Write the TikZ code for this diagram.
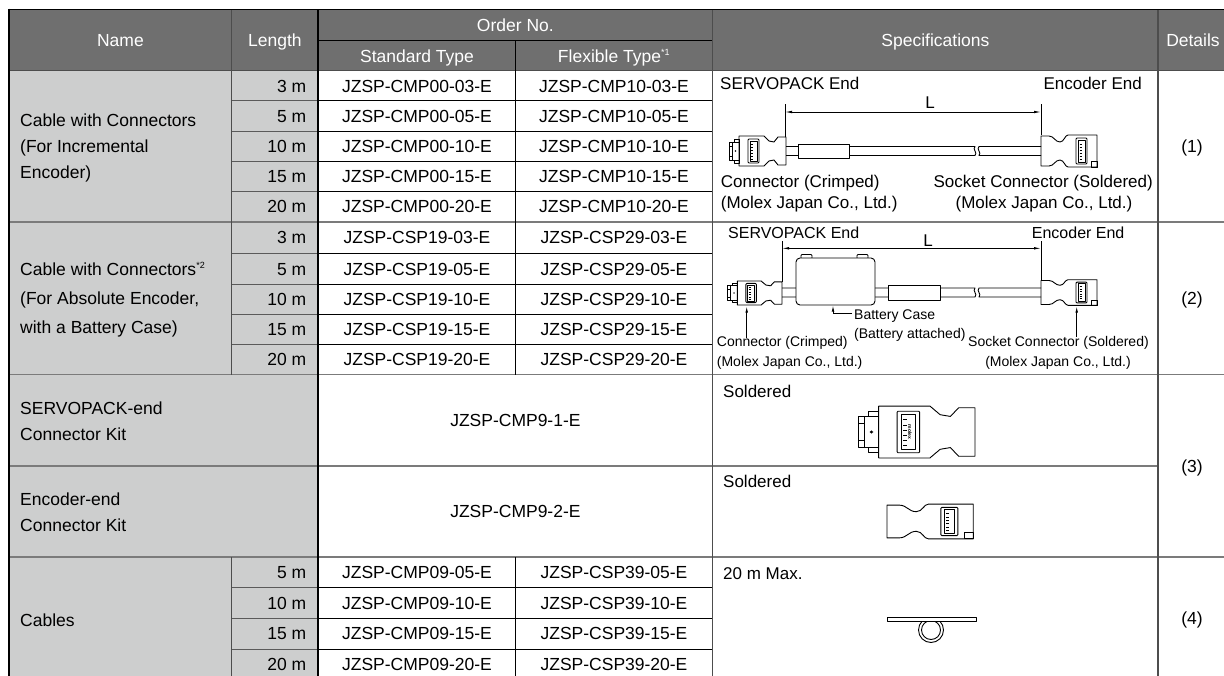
\documentclass[tikz,border=0pt]{standalone}
\usepackage{fontspec}
\setmainfont{Liberation Sans}
\usetikzlibrary{arrows.meta}
\definecolor{hdr}{HTML}{6F6F6F}
\definecolor{cellgray}{HTML}{CDCECE}
\definecolor{sepgray}{HTML}{7B7B7B}
\definecolor{linedark}{HTML}{4D4D4D}
\definecolor{rowgray}{HTML}{5A5A5A}
\newcommand\drawplug{%
  \draw (-57,-9) rectangle (-47,9);
  \draw (-54,-9) -- (-54,9);
  \draw (-57,-5) -- (-54,-5) (-57,5) -- (-54,5);
  \fill (-50.5,0) circle (0.9);
  \draw (-52,-12) rectangle (-47,-9);
  \draw (-52,9) rectangle (-47,12);
  \draw (-47,-15) -- (-22,-15) -- (-17,-10) -- (-12,-9) -- (-8,-14) -- (0,-14) -- (0,14) -- (-8,14) -- (-12,9) -- (-17,10) -- (-22,15) -- (-47,15) -- cycle;
  \draw[rounded corners=1] (-38,-12) rectangle (-27,12);
  \draw (-36,-10) rectangle (-29,10);
  \foreach \t in {-7,-4,...,8} \draw (-35,\t) -- (-33,\t);
}
\newcommand\drawsocket{%
  \draw (0,-15) -- (8,-15) .. controls (13,-15) and (14,-9) .. (19,-9) .. controls (23,-9) and (24,-16) .. (27,-16) -- (56,-16) -- (56,16) -- (27,16) .. controls (24,16) and (23,9) .. (19,9) .. controls (14,9) and (13,15) .. (8,15) -- (0,15) -- cycle;
  \draw[rounded corners=1] (35,-13) rectangle (46,13);
  \draw (37,-11) rectangle (44,11);
  \foreach \t in {-7,-4,...,8} \draw (38.5,\t) -- (40.5,\t);
  \draw (50,10) rectangle (56,16);
}
\begin{document}
\begin{tikzpicture}[x=1pt,y=-1pt,
  txt/.style={inner sep=0pt, font=\fontsize{17.5}{21}\selectfont},
  hd/.style={txt, text=white},
  sp/.style={inner sep=0pt, font=\fontsize{17}{20}\selectfont},
  sm/.style={inner sep=0pt, font=\fontsize{14}{16}\selectfont},
  dw/.style={line width=0.9pt, line join=round},
  dim/.style={line width=0.8pt, {Latex[length=7pt,width=2.6pt]}-{Latex[length=7pt,width=2.6pt]}},
  lead/.style={line width=0.8pt, -{Latex[length=6pt,width=2.6pt]}},
  rowg/.style={line width=0.9pt, rowgray},
  rowk/.style={line width=0.9pt, black},
  sep/.style={line width=1.8pt, sepgray},
  hline/.style={line width=1.5pt, linedark},
  vd/.style={line width=1.3pt, linedark},
  thickk/.style={line width=1.8pt, black},
]
\useasboundingbox (0,0) rectangle (1224,675);
\clip (0,0) rectangle (1224,675);
\fill[white] (0,0) rectangle (1224,675);
% fills
\fill[hdr] (9,9.5) rectangle (1230,70.7);
\fill[cellgray] (9,70.7) rectangle (318,680);
% row lines
\foreach \y in {100.9,131.1,161.3,191.5,253.7,284.3,314.3,344.3,587.3,618.3,649} {
  \draw[rowg] (231.7,\y) -- (318,\y);
  \draw[rowk] (318,\y) -- (712.7,\y);
}
\foreach \y in {221.7,374.5,557.3,679.5} \draw[sep] (9,\y) -- (1230,\y);
\draw[sep] (9,465.7) -- (1158,465.7);
\draw[hline] (9,70.7) -- (1230,70.7);
% verticals
\draw[vd] (231.7,9.5) -- (231.7,374.5);
\draw[vd] (231.7,557.3) -- (231.7,680);
\draw[rowk] (515.7,40.7) -- (515.7,374.5);
\draw[rowk] (515.7,557.3) -- (515.7,680);
\draw[rowk] (318,40.7) -- (712.7,40.7);
\draw[vd] (712.7,9.5) -- (712.7,680);
\draw[vd] (1158,9.5) -- (1158,680);
\draw[thickk] (318,9.5) -- (318,680);
\draw[thickk] (8.1,9.5) -- (1230,9.5);
\draw[thickk] (9,8.6) -- (9,680);

% header
\node[hd,anchor=base] (hname) at (120.4,46.2) {Name};
\node[hd,anchor=base] (hlen) at (274.9,46.2) {Length};
\node[hd,anchor=base] (hord) at (515.4,31.5) {Order No.};
\node[hd,anchor=base] (hstd) at (417,62) {Standard Type};
\node[hd,anchor=base] (hflex) at (614,62) {Flexible Type\textsuperscript{\fontsize{9}{9}\selectfont *1}};
\node[hd,anchor=base] (hspec) at (935.4,46.2) {Specifications};
\node[hd,anchor=base] (hdet) at (1193,46.2) {Details};

% names
\node[txt,anchor=base west] (n1a) at (20,126.2) {Cable with Connectors};
\node[txt,anchor=base west] (n1b) at (20,152.2) {(For Incremental};
\node[txt,anchor=base west] (n1c) at (20,178.2) {Encoder)};
\node[txt,anchor=base west] (n2a) at (20,275.2) {Cable with Connectors\textsuperscript{\fontsize{9}{9}\selectfont *2}};
\node[txt,anchor=base west] (n2b) at (20,304.2) {(For Absolute Encoder,};
\node[txt,anchor=base west] (n2c) at (20,333.2) {with a Battery Case)};
\node[txt,anchor=base west] (n3a) at (20,414) {SERVOPACK-end};
\node[txt,anchor=base west] (n3b) at (20,440) {Connector Kit};
\node[txt,anchor=base west] (n4a) at (20,505.5) {Encoder-end};
\node[txt,anchor=base west] (n4b) at (20,531.5) {Connector Kit};
\node[txt,anchor=base west] (n5a) at (20,626) {Cables};

% section 1 rows
\foreach \c/\l/\k [count=\i] in {85.8/3/03,116/5/05,146.2/10/10,176.4/15/15,206.6/20/20} {
  \node[txt,anchor=base east] (la\i) at (306.5,\c+6.2) {\l\ m};
  \node[txt,anchor=base] (sa\i) at (417,\c+6.2) {JZSP-CMP00-\k-E};
  \node[txt,anchor=base] (fa\i) at (614,\c+6.2) {JZSP-CMP10-\k-E};
}
% section 2 rows
\foreach \c/\l/\k [count=\i] in {237.7/3/03,269/5/05,299.3/10/10,329.3/15/15,359.4/20/20} {
  \node[txt,anchor=base east] (lb\i) at (306.5,\c+6.2) {\l\ m};
  \node[txt,anchor=base] (sb\i) at (417,\c+6.2) {JZSP-CSP19-\k-E};
  \node[txt,anchor=base] (fb\i) at (614,\c+6.2) {JZSP-CSP29-\k-E};
}
% kits
\node[txt,anchor=base] (k1) at (515.4,426.3) {JZSP-CMP9-1-E};
\node[txt,anchor=base] (k2) at (515.4,517.7) {JZSP-CMP9-2-E};
% cables
\foreach \c/\l/\k [count=\i] in {572.3/5/05,602.8/10/10,633.7/15/15,664.3/20/20} {
  \node[txt,anchor=base east] (lc\i) at (306.5,\c+6.2) {\l\ m};
  \node[txt,anchor=base] (sc\i) at (417,\c+6.2) {JZSP-CMP09-\k-E};
  \node[txt,anchor=base] (fc\i) at (614,\c+6.2) {JZSP-CSP39-\k-E};
}
% details
\node[txt] (d1) at (1192,148) {(1)};
\node[txt] (d2) at (1192,300) {(2)};
\node[txt] (d3) at (1192,468) {(3)};
\node[txt] (d4) at (1192,620) {(4)};

% ---------- spec row 1 ----------
\node[sp,anchor=base west] (s1a) at (720,89.5) {SERVOPACK End};
\node[sp,anchor=base east] (s1b) at (1142,89.5) {Encoder End};
\node[sp,anchor=base] (s1L) at (930,108) {L};
\node[sp,anchor=base west] (s1c) at (720.7,187.5) {Connector (Crimped)};
\node[sp,anchor=base west] (s1d) at (720.7,208) {(Molex Japan Co., Ltd.)};
\node[sp,anchor=base east] (s1e) at (1153,187.5) {Socket Connector (Soldered)};
\node[sp,anchor=base] (s1f) at (1044,208) {(Molex Japan Co., Ltd.)};
\coordinate (e1a) at (785,104); \coordinate (e1b) at (785,137);
\coordinate (e1c) at (1041,104); \coordinate (e1d) at (1041,135);
\draw[dw] (e1a) -- (e1b);
\draw[dw] (e1c) -- (e1d);
\coordinate (m1a) at (785,112); \coordinate (m1b) at (1041,112);
\draw[dim] (m1a) -- (m1b);
\draw[dw] (786,146.5) -- (975,146.5) .. controls (972,149.5) and (978,152.5) .. (975,155.5) -- (786,155.5);
\draw[dw] (1041,146.5) -- (979,146.5) .. controls (976,149.5) and (982,152.5) .. (979,155.5) -- (1041,155.5);
\draw[dw,fill=white] (798,144) rectangle (849,158.5);
\begin{scope}[dw,shift={(786,151)}] \drawplug \end{scope}
\begin{scope}[dw,shift={(1041,151)}] \drawsocket \end{scope}

% ---------- spec row 2 ----------
\node[sp,anchor=base west,font=\fontsize{16}{18}\selectfont] (s2a) at (728,238) {SERVOPACK End};
\node[sp,anchor=base west,font=\fontsize{16}{18}\selectfont] (s2b) at (1031.7,238) {Encoder End};
\node[sp,anchor=base] (s2L) at (928,246.5) {L};
\coordinate (e2a) at (782,241); \coordinate (e2b) at (782,282);
\coordinate (e2c) at (1041,241); \coordinate (e2d) at (1041,280);
\draw[dw] (e2a) -- (e2b);
\draw[dw] (e2c) -- (e2d);
\coordinate (m2a) at (782,248.3); \coordinate (m2b) at (1041,248.3);
\draw[dim] (m2a) -- (m2b);
\draw[dw] (782,288) -- (975,288) .. controls (972,291) and (978,294) .. (975,297) -- (782,297);
\draw[dw] (1041,288) -- (979,288) .. controls (976,291) and (982,294) .. (979,297) -- (1041,297);
\draw[dw,fill=white] (888,285) rectangle (940,300);
\draw[dw,fill=white,rounded corners=1] (801,254.5) rectangle (812,259);
\draw[dw,fill=white,rounded corners=1] (857,254.5) rectangle (868,259);
\draw[dw,fill=white,rounded corners=4] (796,258) rectangle (875,305);
\begin{scope}[dw,shift={(782,293)},xscale=0.95,yscale=0.8] \drawplug \end{scope}
\begin{scope}[dw,shift={(1041,292.5)},yscale=0.8] \drawsocket \end{scope}
\coordinate (bc1) at (852,313); \coordinate (bc2) at (833,313); \coordinate (bc3) at (833,305.5);
\draw[lead] (bc1) -- (bc2) -- (bc3);
\coordinate (lp1) at (746.7,338); \coordinate (lp2) at (746.7,306.5);
\draw[lead] (lp1) -- (lp2);
\coordinate (rp1) at (1076.7,337); \coordinate (rp2) at (1076.7,306.5);
\draw[lead] (rp1) -- (rp2);
\node[sm,anchor=base west] (s2c) at (854,319) {Battery Case};
\node[sm,anchor=base west] (s2d) at (854,338) {(Battery attached)};
\node[sm,anchor=base west] (s2e) at (716.7,346.5) {Connector (Crimped)};
\node[sm,anchor=base west] (s2f) at (716.7,366) {(Molex Japan Co., Ltd.)};
\node[sm,anchor=base west] (s2g) at (968,346) {Socket Connector (Soldered)};
\node[sm,anchor=base] (s2h) at (1058,366) {(Molex Japan Co., Ltd.)};

% ---------- kits ----------
\node[sp,anchor=base west] (s3a) at (723,397.7) {Soldered};
\begin{scope}[dw,shift={(975,432)},xscale=2.05,yscale=1.73] \drawplug \end{scope}
\node[inner sep=0pt,rotate=-90,font=\fontsize{5}{5}\selectfont\bfseries] (mlx) at (910,432) {molex};
\node[sp,anchor=base west] (s4a) at (723,487.7) {Soldered};
\begin{scope}[dw,shift={(887,521.5)},xscale=1.54,yscale=1.09] \drawsocket \end{scope}

% ---------- cables ----------
\node[sp,anchor=base west] (s5a) at (723,579) {20 m Max.};
\draw[dw] (931,630) circle (12.5);
\draw[dw] (931,630) circle (9.5);
\draw[dw,fill=white] (887,617.5) rectangle (976,621.5);
\end{tikzpicture}
\end{document}
